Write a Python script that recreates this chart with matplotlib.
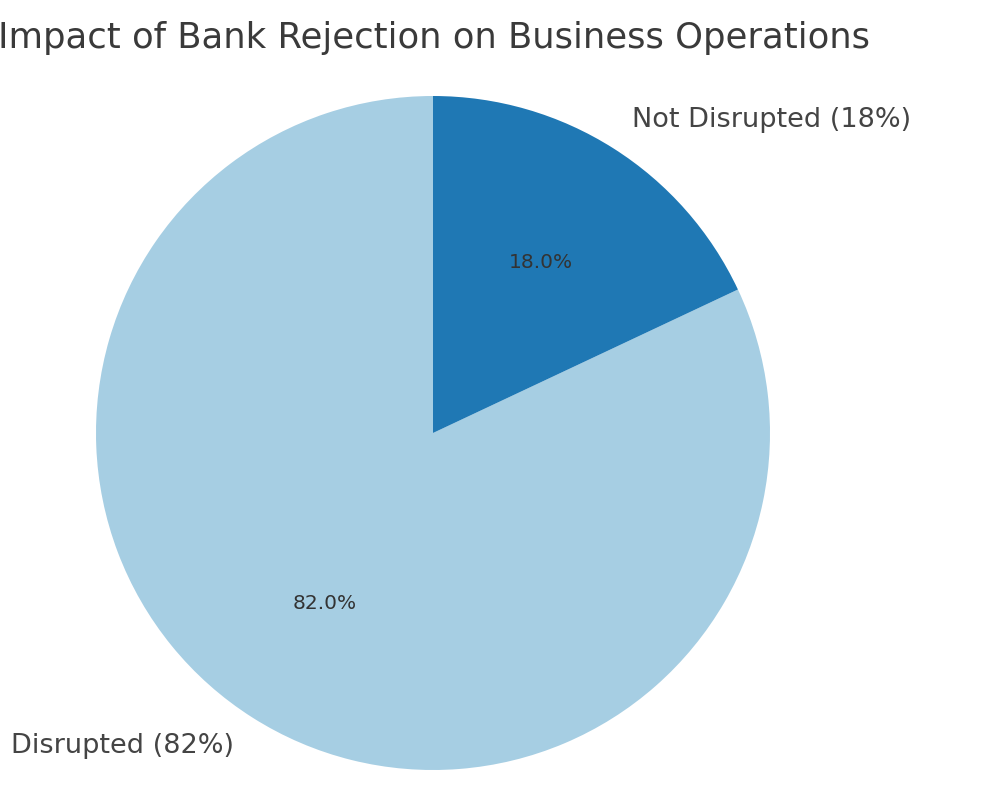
import matplotlib
matplotlib.use("Agg")
import matplotlib.pyplot as plt

# data
labels = ['Disrupted (82%)', 'Not Disrupted (18%)']
sizes = [82, 18]
colors = ['#a6cee3', '#1f78b4']

fig = plt.figure(figsize=(10, 8), dpi=100)

# pie centre at about (433, 433) px from top-left, radius ~337 px
r_px = 337.0
lim = 1.25
side = 2 * lim * r_px
cx, cy = 433.0, 800 - 433.0
ax = fig.add_axes([(cx - side / 2) / 1000, (cy - side / 2) / 800, side / 1000, side / 800])

wedges, texts, autotexts = ax.pie(sizes, labels=labels, colors=colors, startangle=90,
                                  autopct='%1.1f%%', pctdistance=0.6, labeldistance=1.1,
                                  textprops={'fontsize': 19.5, 'color': '#444444'})
for t in autotexts:
    t.set_fontsize(14.5)
    t.set_color('#333333')

ax.set_xlim(-lim, lim)
ax.set_ylim(-lim, lim)
ax.set_aspect('equal')
ax.axis('off')

# title (runs into the left edge like the reference)
fig.text(0.4345, 1 - 38 / 800, 'Impact of Bank Rejection on Business Operations',
         ha='center', va='center', fontsize=25.5, color='#3a3a3a')

fig.savefig('out.png', dpi=100)
